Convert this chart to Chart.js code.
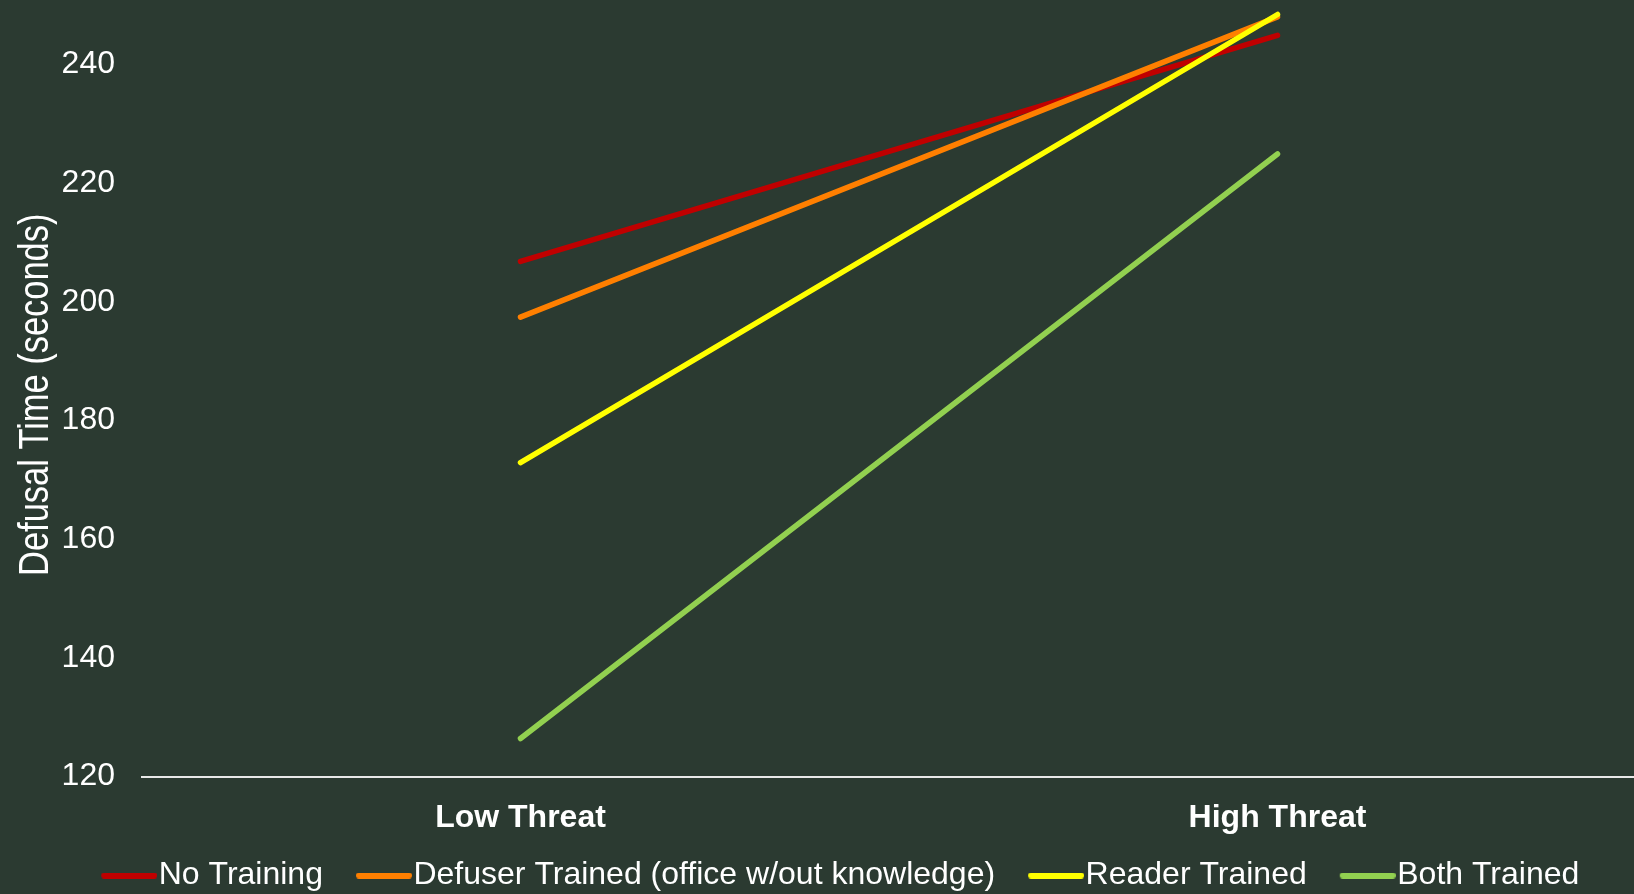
<!DOCTYPE html>
<html>
<head>
<meta charset="utf-8">
<title>Defusal Time by Threat Level</title>
<script src="https://cdn.jsdelivr.net/npm/chart.js@4"></script>
<style>
  html, body { margin: 0; padding: 0; background: #2b3a31; overflow: hidden; }
  #wrap { position: relative; width: 1634px; height: 894px; overflow: hidden; background: #2b3a31; }
  #wrap canvas { position: absolute; left: 0; top: 0; }
</style>
</head>
<body>
<div id="wrap"><canvas id="chart" width="1656" height="932" style="width:1656px;height:932px"></canvas></div>
<script>
// Threat conditions on the x axis
const categories = ['Low Threat', 'High Threat'];

// Mean defusal time (seconds) per training group
const noTraining     = [206.8, 244.9];
const defuserTrained = [197.4, 248.0];
const readerTrained  = [172.9, 248.4];
const bothTrained    = [126.4, 224.9];

const seriesNames = [
  'No Training',
  'Defuser Trained (office w/out knowledge)',
  'Reader Trained',
  'Both Trained'
];
const seriesColors = ['#c00000', '#ff7f00', '#ffff00', '#92d050'];

// Y axis range and labelled ticks
const yMin = 120;
const yMax = 250;
const yStep = 20;
const yTitle = 'Defusal Time (seconds)';

const baseFont = "'Liberation Sans', Arial, sans-serif";

// Legend swatch: a rounded line placed at the right of a wider transparent image,
// so it sits close to its label text
const SWATCH_BOX = 64;
function swatch(color) {
  const c = document.createElement('canvas');
  c.width = SWATCH_BOX + 29; c.height = 6;
  const g = c.getContext('2d');
  g.strokeStyle = color;
  g.lineWidth = 6;
  g.lineCap = 'round';
  g.beginPath();
  g.moveTo(c.width - 53, 3);
  g.lineTo(c.width - 3, 3);
  g.stroke();
  return c;
}

// Condensed, rotated y-axis title
const yTitlePlugin = {
  id: 'yTitle',
  afterDraw(chart) {
    const ctx = chart.ctx;
    const area = chart.chartArea;
    ctx.save();
    ctx.translate(36, (area.top + area.bottom) / 2 + 4);
    ctx.rotate(-Math.PI / 2);
    ctx.scale(0.82, 1);
    ctx.font = "42px " + baseFont;
    ctx.fillStyle = '#ffffff';
    ctx.textAlign = 'center';
    ctx.textBaseline = 'middle';
    ctx.fillText(yTitle, 0, 0);
    ctx.restore();
  }
};

const seriesValues = [noTraining, defuserTrained, readerTrained, bothTrained];
const datasets = seriesNames.map((name, i) => ({
  label: name,
  data: seriesValues[i],
  borderColor: seriesColors[i],
  backgroundColor: seriesColors[i],
  borderWidth: 5.5,
  borderCapStyle: 'round',
  pointRadius: 0,
  pointHoverRadius: 0,
  fill: false,
  tension: 0,
  order: seriesNames.length - i   // later series painted on top
}));

new Chart(document.getElementById('chart'), {
  type: 'line',
  data: { labels: categories, datasets },
  plugins: [yTitlePlugin],
  options: {
    responsive: false,
    animation: false,
    layout: { padding: { left: 0, right: -2, top: 5, bottom: 30.5 } },
    plugins: {
      tooltip: { enabled: false },
      legend: {
        position: 'bottom',
        labels: {
          color: '#ffffff',
          font: { family: baseFont, size: 32 },
          usePointStyle: true,
          pointStyleWidth: SWATCH_BOX,
          padding: 10.5,
          generateLabels: (chart) => chart.data.datasets.map((ds, i) => ({
            text: ds.label,
            fillStyle: ds.borderColor,
            strokeStyle: ds.borderColor,
            fontColor: '#ffffff',
            lineWidth: 0,
            pointStyle: swatch(ds.borderColor),
            hidden: false,
            datasetIndex: i
          }))
        }
      }
    },
    scales: {
      x: {
        type: 'category',
        offset: true,
        grid: { display: false, drawTicks: false },
        border: { display: true, color: '#e8e8e8', width: 2 },
        ticks: {
          color: '#ffffff',
          font: { family: baseFont, size: 32, weight: 'bold' },
          padding: 22,
          maxRotation: 0
        },
        afterFit: (scale) => { scale.height = 72.5; }
      },
      y: {
        min: yMin,
        max: yMax,
        grid: { display: false, drawTicks: false },
        border: { display: false },
        ticks: {
          stepSize: yStep,
          color: '#ffffff',
          font: { family: baseFont, size: 32 },
          padding: 27
        },
        afterBuildTicks: (scale) => {
          scale.ticks = scale.ticks.filter(t => (t.value - yMin) % yStep === 0);
        },
        afterFit: (scale) => {
          scale.width = 142;
          scale.paddingTop = 0;
          scale.paddingBottom = 0;
        }
      }
    }
  }
});
</script>
</body>
</html>
